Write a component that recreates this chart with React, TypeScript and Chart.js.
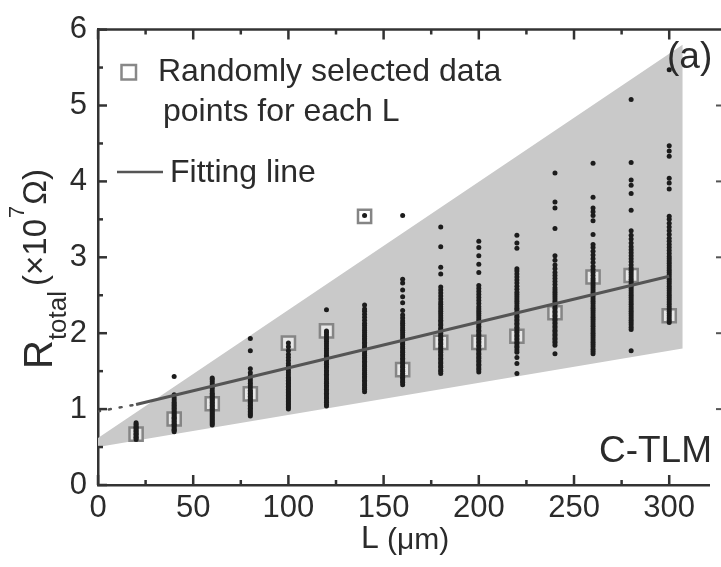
import React, { useEffect, useRef } from 'react';
import { Chart, registerables } from 'chart.js';
Chart.register(...registerables);

const FONT = '"Liberation Sans", Arial, Helvetica, sans-serif';
const INK = '#2b2b2b';

// channel lengths (µm)
const lengths = [20, 40, 60, 80, 100, 120, 140, 160, 180, 200, 220, 240, 260, 280, 300];

// measured R_total (x1e7 Ω) for each L
const c20 = [0.60, 0.62, 0.63, 0.65, 0.67, 0.68, 0.70, 0.71, 0.73, 0.75, 0.76, 0.78, 0.80, 0.82];
const c40 = [0.70, 0.72, 0.73, 0.75, 0.77, 0.79, 0.80, 0.82, 0.84, 0.86, 0.88, 0.89, 0.91, 0.93, 0.95, 0.97, 0.99, 1.01, 1.03, 1.05, 1.07, 1.09, 1.12, 1.15, 1.19, 1.43];
const c60 = [0.79, 0.81, 0.83, 0.85, 0.87, 0.89, 0.91, 0.93, 0.95, 0.97, 0.99, 1.01, 1.03, 1.05, 1.07, 1.09, 1.11, 1.13, 1.15, 1.17, 1.19, 1.21, 1.24, 1.27, 1.30, 1.33, 1.36, 1.39, 1.41];
const c80 = [0.91, 0.93, 0.95, 0.97, 0.99, 1.01, 1.03, 1.05, 1.07, 1.09, 1.11, 1.13, 1.15, 1.17, 1.19, 1.21, 1.23, 1.25, 1.28, 1.31, 1.34, 1.37, 1.40, 1.44, 1.48, 1.53, 1.77, 1.93];
const c100 = [1.00, 1.02, 1.04, 1.06, 1.08, 1.10, 1.12, 1.14, 1.16, 1.18, 1.20, 1.22, 1.24, 1.26, 1.28, 1.30, 1.32, 1.34, 1.36, 1.38, 1.40, 1.42, 1.45, 1.48, 1.51, 1.54, 1.57, 1.60, 1.64, 1.68, 1.72, 1.77, 1.82, 1.87];
const c120 = [1.04, 1.06, 1.09, 1.11, 1.14, 1.16, 1.19, 1.21, 1.24, 1.26, 1.29, 1.31, 1.34, 1.36, 1.39, 1.41, 1.44, 1.46, 1.49, 1.51, 1.54, 1.56, 1.59, 1.61, 1.64, 1.66, 1.69, 1.71, 1.74, 1.77, 1.80, 1.83, 1.86, 1.89, 1.92, 1.95, 1.98, 2.01, 2.03, 2.31];
const c140 = [1.23, 1.26, 1.28, 1.31, 1.33, 1.36, 1.38, 1.41, 1.43, 1.46, 1.48, 1.51, 1.53, 1.56, 1.58, 1.61, 1.63, 1.66, 1.68, 1.71, 1.73, 1.76, 1.78, 1.81, 1.83, 1.86, 1.88, 1.91, 1.93, 1.96, 1.98, 2.01, 2.04, 2.07, 2.10, 2.13, 2.17, 2.21, 2.25, 2.29, 2.32, 2.37, 3.55];
const c160 = [1.32, 1.35, 1.37, 1.40, 1.42, 1.45, 1.47, 1.50, 1.52, 1.55, 1.57, 1.60, 1.62, 1.65, 1.67, 1.70, 1.72, 1.75, 1.77, 1.80, 1.82, 1.85, 1.87, 1.90, 1.92, 1.95, 1.98, 2.01, 2.04, 2.07, 2.10, 2.13, 2.16, 2.20, 2.24, 2.30, 2.40, 2.48, 2.57, 2.66, 2.71, 3.55];
const c180 = [1.47, 1.50, 1.52, 1.55, 1.57, 1.60, 1.62, 1.65, 1.67, 1.70, 1.72, 1.75, 1.77, 1.80, 1.82, 1.85, 1.87, 1.90, 1.92, 1.95, 1.97, 2.00, 2.02, 2.05, 2.07, 2.10, 2.12, 2.15, 2.17, 2.20, 2.23, 2.26, 2.29, 2.32, 2.35, 2.38, 2.41, 2.45, 2.49, 2.53, 2.57, 2.61, 2.78, 2.87, 3.14, 3.40];
const c200 = [1.49, 1.52, 1.54, 1.57, 1.59, 1.62, 1.64, 1.67, 1.69, 1.72, 1.74, 1.77, 1.79, 1.82, 1.84, 1.87, 1.89, 1.92, 1.94, 1.97, 1.99, 2.02, 2.04, 2.07, 2.09, 2.12, 2.14, 2.17, 2.20, 2.23, 2.26, 2.29, 2.32, 2.35, 2.39, 2.43, 2.47, 2.51, 2.55, 2.59, 2.63, 2.80, 2.91, 3.02, 3.13, 3.21];
const c220 = [1.47, 1.60, 1.68, 1.75, 1.78, 1.81, 1.83, 1.86, 1.88, 1.91, 1.93, 1.96, 1.98, 2.01, 2.03, 2.06, 2.08, 2.11, 2.13, 2.16, 2.18, 2.21, 2.23, 2.26, 2.28, 2.31, 2.33, 2.36, 2.39, 2.42, 2.45, 2.48, 2.51, 2.54, 2.58, 2.62, 2.66, 2.70, 2.74, 2.78, 2.82, 2.85, 3.12, 3.19, 3.29];
const c240 = [1.73, 1.84, 1.87, 1.89, 1.92, 1.94, 1.97, 1.99, 2.02, 2.04, 2.07, 2.09, 2.12, 2.14, 2.17, 2.19, 2.22, 2.24, 2.27, 2.29, 2.32, 2.34, 2.37, 2.39, 2.42, 2.45, 2.48, 2.51, 2.54, 2.57, 2.60, 2.64, 2.68, 2.72, 2.76, 2.80, 2.85, 2.90, 2.96, 3.02, 3.38, 3.65, 3.73, 4.11];
const c260 = [1.73, 1.76, 1.79, 1.82, 1.85, 1.88, 1.91, 1.94, 1.97, 2.00, 2.03, 2.06, 2.09, 2.12, 2.15, 2.18, 2.21, 2.24, 2.27, 2.30, 2.33, 2.36, 2.39, 2.42, 2.45, 2.48, 2.51, 2.54, 2.57, 2.60, 2.63, 2.66, 2.69, 2.72, 2.76, 2.80, 2.84, 2.88, 2.93, 2.98, 3.03, 3.08, 3.13, 3.17, 3.30, 3.48, 3.55, 3.60, 3.65, 3.79, 4.24];
const c280 = [1.77, 2.05, 2.08, 2.11, 2.14, 2.17, 2.20, 2.23, 2.26, 2.29, 2.32, 2.35, 2.38, 2.41, 2.44, 2.47, 2.50, 2.53, 2.56, 2.59, 2.62, 2.65, 2.68, 2.71, 2.74, 2.77, 2.80, 2.83, 2.86, 2.90, 2.94, 2.98, 3.02, 3.06, 3.10, 3.14, 3.19, 3.24, 3.29, 3.35, 3.62, 3.84, 3.95, 4.02, 4.25, 5.08];
const c300 = [2.14, 2.17, 2.20, 2.23, 2.26, 2.29, 2.32, 2.35, 2.38, 2.41, 2.44, 2.47, 2.50, 2.53, 2.56, 2.59, 2.62, 2.65, 2.68, 2.71, 2.74, 2.77, 2.80, 2.83, 2.86, 2.89, 2.92, 2.95, 2.98, 3.01, 3.05, 3.09, 3.13, 3.17, 3.21, 3.25, 3.30, 3.35, 3.40, 3.45, 3.50, 3.54, 3.90, 3.98, 4.04, 4.33, 4.40, 4.47, 5.47];
const columns = [c20, c40, c60, c80, c100, c120, c140, c160, c180, c200, c220, c240, c260, c280, c300];

// randomly selected data point for each L
const selected = [0.67, 0.87, 1.07, 1.20, 1.87, 2.03, 3.54, 1.52, 1.88, 1.88, 1.96, 2.27, 2.74, 2.76, 2.23];

// fitting line and its extrapolation
const fitX = [20, 300];
const fitY = [1.06, 2.75];
const extX = [0, 20];
const extY = [0.97, 1.06];

// shaded spread band (corner points)
const bandX = [0, 0, 307, 307];
const bandY = [0.50, 0.62, 5.80, 1.80];

const xTickValues = [0, 50, 100, 150, 200, 250, 300];
const yTickValues = [0, 1, 2, 3, 4, 5, 6];
// edge ticks of the neighbouring panel, visible at the right border
const neighbourTicks = [1, 2, 3, 4, 5];

const pts = (xs: number[], ys: number[]) => xs.map((x, i) => ({ x, y: ys[i] }));

const decor = {
  id: 'decor',
  afterDatasetsDraw(chart: any) {
    const { ctx, chartArea, scales } = chart;
    const x = scales.x;
    const y = scales.y;
    const { left, top, bottom } = chartArea;
    ctx.save();
    ctx.strokeStyle = '#333';
    ctx.lineWidth = 2.5;
    ctx.lineCap = 'butt';
    // top frame line
    ctx.beginPath();
    ctx.moveTo(left, top);
    ctx.lineTo(chart.width, top);
    ctx.stroke();
    // x ticks (inward, bottom and top)
    for (let v = 0; v <= x.max; v += 25) {
      const px = x.getPixelForValue(v);
      const len = v % 50 === 0 ? 10 : 5;
      ctx.beginPath();
      ctx.moveTo(px, bottom);
      ctx.lineTo(px, bottom - len);
      ctx.moveTo(px, top);
      ctx.lineTo(px, top + len);
      ctx.stroke();
    }
    // y ticks (inward)
    for (let v = 0; v <= y.max + 1e-9; v += 0.5) {
      const py = y.getPixelForValue(v);
      const len = Math.abs(v - Math.round(v)) < 1e-6 ? 9 : 5;
      ctx.beginPath();
      ctx.moveTo(left, py);
      ctx.lineTo(left + len, py);
      ctx.stroke();
    }
    // neighbour panel marks at the right edge
    ctx.lineWidth = 2;
    ctx.strokeStyle = '#555';
    neighbourTicks.forEach((v) => {
      const py = y.getPixelForValue(v);
      ctx.beginPath();
      ctx.moveTo(716, py);
      ctx.lineTo(721, py);
      ctx.stroke();
    });
    ctx.restore();
  },
  afterDraw(chart: any) {
    const { ctx } = chart;
    ctx.save();
    ctx.fillStyle = INK;
    ctx.textBaseline = 'alphabetic';
    ctx.textAlign = 'left';

    // legend
    ctx.fillStyle = '#fff';
    ctx.strokeStyle = '#888';
    ctx.lineWidth = 2.5;
    ctx.fillRect(121.5, 65, 14.5, 14.5);
    ctx.strokeRect(121.5, 65, 14.5, 14.5);
    ctx.fillStyle = INK;
    ctx.font = `32px ${FONT}`;
    ctx.fillText('Randomly selected data', 158, 81);
    ctx.fillText('points for each L', 163, 121);
    ctx.fillText('Fitting line', 170, 182);
    ctx.strokeStyle = '#555';
    ctx.lineWidth = 2.5;
    ctx.beginPath();
    ctx.moveTo(117, 172);
    ctx.lineTo(163, 172);
    ctx.stroke();

    // panel labels
    ctx.font = `37px ${FONT}`;
    ctx.fillText('(a)', 667, 68);
    ctx.textAlign = 'right';
    ctx.fillText('C-TLM', 712, 462);
    ctx.textAlign = 'left';

    // x title
    ctx.font = `32px ${FONT}`;
    ctx.fillText('L', 361, 548);
    ctx.font = `30px ${FONT}`;
    ctx.fillText('(\u03bcm)', 387, 549);

    // y title
    ctx.save();
    ctx.translate(52, 369);
    ctx.rotate(-Math.PI / 2);
    let cx = 0;
    ctx.font = `40px ${FONT}`;
    ctx.fillText('R', cx, 0);
    cx += ctx.measureText('R').width;
    ctx.font = `26px ${FONT}`;
    ctx.fillText('total', cx, 14);
    cx += ctx.measureText('total').width + 5;
    ctx.font = `33px ${FONT}`;
    ctx.fillText('(\u00d710', cx, -6);
    cx += ctx.measureText('(\u00d710').width;
    ctx.font = `22px ${FONT}`;
    ctx.fillText('7', cx + 1, -28);
    cx += ctx.measureText('7').width + 2;
    ctx.font = `33px ${FONT}`;
    ctx.fillText('\u03a9)', cx, -6);
    ctx.restore();

    ctx.restore();
  },
};

export default function App() {
  const ref = useRef<HTMLCanvasElement | null>(null);
  useEffect(() => {
    if (!ref.current) return;
    const dots: { x: number; y: number }[] = [];
    lengths.forEach((L, i) => columns[i].forEach((v) => dots.push({ x: L, y: v })));
    const chart = new Chart(ref.current, {
      type: 'scatter',
      data: {
        datasets: [
          {
            label: 'Fitting line',
            data: pts(fitX, fitY),
            showLine: true,
            borderColor: '#555',
            borderWidth: 3,
            pointRadius: 0,
            fill: false,
            order: 0,
          } as any,
          {
            label: 'extrapolation',
            data: pts(extX, extY),
            showLine: true,
            borderColor: '#555',
            borderWidth: 2.5,
            borderDash: [2, 9],
            borderCapStyle: 'round',
            pointRadius: 0,
            fill: false,
            order: 0,
          } as any,
          {
            label: 'data',
            data: dots,
            pointRadius: 2.5,
            pointBackgroundColor: '#1c1c1c',
            pointBorderWidth: 0,
            order: 1,
          } as any,
          {
            label: 'Randomly selected data points for each L',
            data: pts(lengths, selected),
            pointStyle: 'rect',
            pointRadius: 9.3,
            pointBackgroundColor: 'rgba(255,255,255,0.55)',
            pointBorderColor: '#858585',
            pointBorderWidth: 2.5,
            order: 2,
          } as any,
          {
            label: 'band',
            data: pts(bandX, bandY),
            showLine: true,
            borderWidth: 0,
            borderColor: 'rgba(0,0,0,0)',
            backgroundColor: '#c9c9c9',
            pointRadius: 0,
            fill: 'shape',
            tension: 0,
            order: 3,
          } as any,
        ],
      },
      options: {
        animation: false,
        responsive: false,
        events: [],
        layout: { padding: { top: 22, right: 0, left: 0, bottom: 0 } },
        plugins: { legend: { display: false }, tooltip: { enabled: false } },
        scales: {
          x: {
            type: 'linear',
            min: 0,
            max: 321,
            afterFit: (s: any) => { s.height = 82; },
            afterBuildTicks: (s: any) => { s.ticks = xTickValues.map((v) => ({ value: v })); },
            ticks: { font: { family: FONT, size: 31 }, color: INK, padding: 5, maxRotation: 0, autoSkip: false },
            grid: { display: false, drawTicks: false },
            border: { display: true, color: '#333', width: 2.5 },
          },
          y: {
            type: 'linear',
            min: 0,
            max: 6,
            afterFit: (s: any) => { s.width = 98; },
            afterBuildTicks: (s: any) => { s.ticks = yTickValues.map((v) => ({ value: v })); },
            ticks: { font: { family: FONT, size: 31 }, color: INK, padding: 11 },
            grid: { display: false, drawTicks: false },
            border: { display: true, color: '#333', width: 2.5 },
          },
        },
      },
      plugins: [decor],
    });
    return () => chart.destroy();
  }, []);
  return (
    <div style={{ position: 'absolute', left: 0, top: 0, width: 721, height: 567, background: '#fff' }}>
      <canvas ref={ref} width={721} height={567} />
    </div>
  );
}
